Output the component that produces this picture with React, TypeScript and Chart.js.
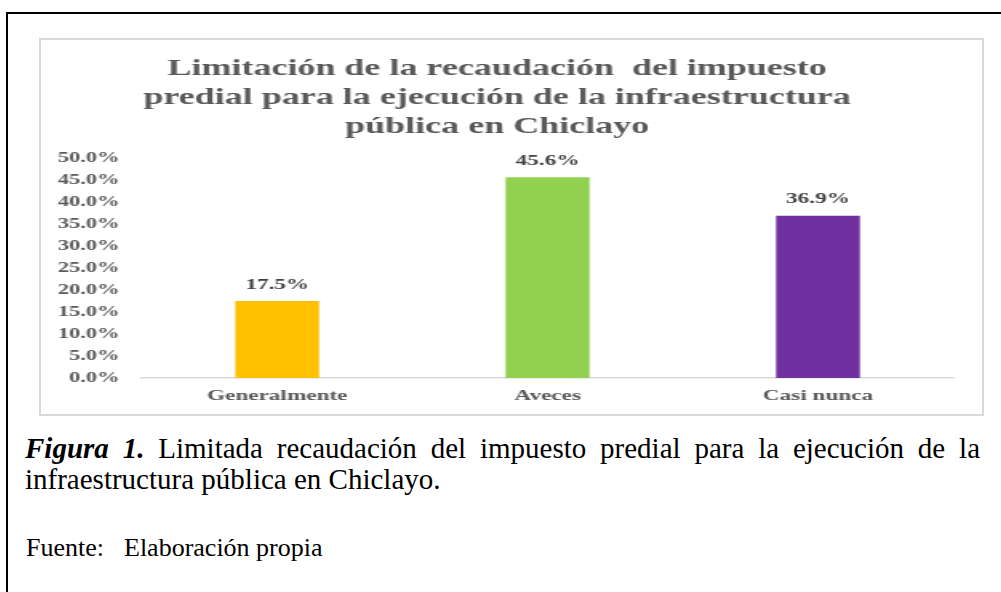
import React, { useEffect, useRef } from "react";
import { Chart, registerables } from "chart.js";

Chart.register(...registerables);

const titleLines = [
  "Limitación de la recaudación  del impuesto",
  "predial para la ejecución de la infraestructura",
  "pública en Chiclayo",
];
const categories = ["Generalmente", "Aveces", "Casi nunca"];
const values = [17.5, 45.6, 36.9];
const barColors = ["#FFC000", "#92D050", "#7030A0"];
const yMin = 0;
const yMax = 50;
const yStep = 5;

const SERIF = "'Liberation Serif', 'Times New Roman', serif";
const STRETCH = 1.6;
const BOX_INNER_W = 941;
const BOX_INNER_H = 374;
const CANVAS_W = Math.round(BOX_INNER_W / STRETCH);
const CANVAS_H = BOX_INNER_H;

const fmt = (v: number) => v.toFixed(1) + "%";

const valueLabels = {
  id: "valueLabels",
  afterDatasetsDraw(chart: any) {
    const ctx = chart.ctx;
    const meta = chart.getDatasetMeta(0);
    ctx.save();
    ctx.font = `bold 14.5px ${SERIF}`;
    ctx.fillStyle = "#404040";
    ctx.textAlign = "center";
    ctx.textBaseline = "middle";
    meta.data.forEach((bar: any, i: number) => {
      ctx.fillText(fmt(values[i]), bar.x, bar.y - 16);
    });
    ctx.restore();
  },
};

export default function App() {
  const canvasRef = useRef<HTMLCanvasElement | null>(null);

  useEffect(() => {
    if (!canvasRef.current) return;
    const chart = new Chart(canvasRef.current, {
      type: "bar",
      data: {
        labels: categories,
        datasets: [
          {
            data: values,
            backgroundColor: barColors,
            borderWidth: 0,
            barPercentage: 0.31,
            categoryPercentage: 1,
          },
        ],
      },
      options: {
        responsive: false,
        animation: false,
        devicePixelRatio: 1,
        layout: { padding: { left: 0, right: 18, top: 0, bottom: 0 } },
        plugins: {
          legend: { display: false },
          tooltip: { enabled: false },
          title: {
            display: true,
            text: titleLines,
            color: "#595959",
            font: { family: SERIF, size: 22.5, weight: "bold", lineHeight: 29 / 22.5 },
            padding: { top: 14.5, bottom: 16.5 },
          },
        },
        scales: {
          x: {
            grid: { display: false, drawTicks: false },
            border: { display: true, color: "#d9d9d9", width: 1.5 },
            ticks: {
              color: "#595959",
              font: { family: SERIF, size: 14.5, weight: "bold", lineHeight: 1.2 },
              padding: 10,
            },
            afterFit: (scale: any) => {
              scale.height = 36;
            },
          },
          y: {
            min: yMin,
            max: yMax,
            grid: { display: false, drawTicks: false },
            border: { display: false },
            ticks: {
              stepSize: yStep,
              color: "#595959",
              font: { family: SERIF, size: 14, weight: "bold" },
              padding: 14,
              callback: (v: any) => fmt(Number(v)),
            },
            afterFit: (scale: any) => {
              scale.width = 63.1;
            },
          },
        },
      },
      plugins: [valueLabels],
    });
    return () => chart.destroy();
  }, []);

  return (
    <div
      style={{
        position: "fixed",
        left: 0,
        top: 0,
        width: 1001,
        height: 592,
        background: "#ffffff",
        overflow: "hidden",
        fontFamily: SERIF,
      }}
    >
      <div
        style={{
          position: "absolute",
          left: 6,
          top: 12,
          width: 1100,
          height: 700,
          border: "2px solid #000",
          boxSizing: "border-box",
        }}
      />
      <div
        style={{
          position: "absolute",
          left: 39,
          top: 38,
          width: BOX_INNER_W + 4,
          height: BOX_INNER_H + 4,
          border: "2px solid #d9d9d9",
          boxSizing: "border-box",
          background: "#fff",
        }}
      >
        <canvas
          ref={canvasRef}
          width={CANVAS_W}
          height={CANVAS_H}
          style={{ width: BOX_INNER_W + "px", height: BOX_INNER_H + "px", display: "block" }}
        />
      </div>
      <div
        style={{
          position: "absolute",
          left: 25,
          top: 433,
          width: 955,
          fontSize: 29,
          lineHeight: "31px",
          textAlign: "justify",
          color: "#000",
        }}
      >
        <b>
          <i>Figura 1.</i>
        </b>{" "}
        Limitada recaudación del impuesto predial para la ejecución de la infraestructura pública en
        Chiclayo.
      </div>
      <div
        style={{
          position: "absolute",
          left: 26,
          top: 533,
          fontSize: 26,
          color: "#000",
          whiteSpace: "nowrap",
        }}
      >
        Fuente:<span style={{ marginLeft: 20 }}>Elaboración propia</span>
      </div>
    </div>
  );
}
